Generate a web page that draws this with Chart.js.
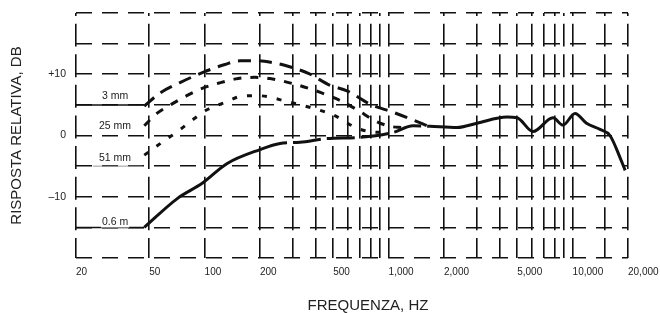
<!DOCTYPE html>
<html>
<head>
<meta charset="utf-8">
<script src="https://cdn.jsdelivr.net/npm/chart.js@4.4.1/dist/chart.umd.min.js"></script>
<style>
html, body { margin: 0; padding: 0; background: #fff; }
#wrap { width: 660px; height: 313px; }
</style>
</head>
<body>
<div id="wrap"><canvas id="graph_ID" width="660" height="313"></canvas></div>
<script>
var freq3mm = [47, 57, 73, 98, 129, 156, 195, 235, 284, 369, 480, 594, 793, 1057, 1340, 1620];
var db3mm   = [4.8, 6.9, 8.6, 10.3, 11.6, 12.2, 12.2, 11.9, 11.3, 10.1, 8.2, 7.3, 5.1, 3.8, 2.6, 1.6];

var freq25mm = [47, 55, 67, 80, 97, 121, 152, 188, 227, 299, 429, 565, 682, 844, 1018, 1183];
var db25mm   = [1.6, 3.6, 5.2, 6.5, 7.7, 8.6, 9.3, 9.5, 9.3, 8.5, 7.0, 5.5, 4.1, 2.4, 1.5, 1.3];

var freq51mm = [47, 62, 71, 86.5, 103, 129, 158, 195, 284, 393, 505, 673, 813, 944];
var db51mm   = [-3.2, -0.6, 0.6, 2.6, 4.2, 5.4, 6.4, 6.5, 5.5, 4.4, 3.3, 1.2, 0.6, 0.5];

var freq06m = [47, 71, 97, 132, 200, 257, 330, 462, 698, 1057, 1358, 1678, 2355, 3022, 4398, 4986, 6095, 7818, 8869, 10306, 11900, 14089, 15960, 18100, 19300];
var db06m   = [-15, -10.3, -7.8, -4.6, -2.3, -1.3, -1.1, -0.5, -0.3, 0.5, 1.6, 1.5, 1.3, 2.0, 3.0, 2.9, 0.65, 2.9, 1.7, 3.6, 2.0, 1.0, 0, -3.6, -5.7];

var curveNames = ['3 mm', '25 mm', '51 mm', '0.6 m'];

var xGridFreqs = [20, 50, 100, 200, 300, 400, 500, 600, 700, 800, 900, 1000, 2000, 3000, 4000, 5000, 6000, 7000, 8000, 9000, 10000, 15000, 20000];
var xLabelFreqs = [20, 50, 100, 200, 500, 1000, 2000, 5000, 10000, 20000];
var xLabelTexts = ['20', '50', '100', '200', '500', '1,000', '2,000', '5,000', '10,000', '20,000'];

var yLabelValues = [10, 0, -10];
var yLabelTexts = ['+10', '0', '\u201310'];

var fontFam = "'Liberation Sans', Arial, sans-serif";
var ink = '#111';

function pts(f, d) {
  return f.map(function (v, i) { return { x: v, y: d[i] }; });
}

function curve(data, dash) {
  return {
    data: data,
    showLine: true,
    borderColor: ink,
    borderWidth: 3,
    borderDash: dash,
    pointRadius: 0,
    cubicInterpolationMode: 'monotone',
    fill: false
  };
}

var solid = curve(pts(freq06m, db06m), []);
// middle part of the 0.6 m curve is drawn with long dashes
solid.segment = {
  borderDash: function (ctx) {
    if (ctx.p0.parsed.x >= 200 && ctx.p1.parsed.x <= 1700) return [28, 6];
    return undefined;
  }
};

// label anchors in data units
var labelPos = {
  freq: 32.6,
  db: [6.4, 1.5, -3.75, -14.2],
  leaders: [
    { from: 20, to: 47, db: 5, color: ink, width: 1.5 },
    { from: 24.7, to: 46, db: -5, color: '#999', width: 1 },
    { from: 20, to: 47, db: -15, color: ink, width: 1.5 }
  ]
};

var curveLabels = {
  id: 'curveLabels',
  beforeDatasetsDraw: function (chart) {
    var xs = chart.scales.x, ys = chart.scales.y, ctx = chart.ctx;
    ctx.save();
    labelPos.leaders.forEach(function (l) {
      ctx.strokeStyle = l.color;
      ctx.lineWidth = l.width;
      ctx.beginPath();
      ctx.moveTo(xs.getPixelForValue(l.from), ys.getPixelForValue(l.db));
      ctx.lineTo(xs.getPixelForValue(l.to), ys.getPixelForValue(l.db));
      ctx.stroke();
    });
    ctx.restore();
  },
  afterDatasetsDraw: function (chart) {
    var xs = chart.scales.x, ys = chart.scales.y, ctx = chart.ctx;
    ctx.save();
    ctx.font = '10.5px ' + fontFam;
    ctx.fillStyle = '#222';
    ctx.textAlign = 'center';
    ctx.textBaseline = 'middle';
    curveNames.forEach(function (name, i) {
      var px = xs.getPixelForValue(labelPos.freq);
      var py = ys.getPixelForValue(labelPos.db[i]);
      var w = ctx.measureText(name).width;
      ctx.fillStyle = '#fff';
      ctx.fillRect(px - w / 2 - 1, py - 6, w + 2, 11);
      ctx.fillStyle = '#222';
      ctx.fillText(name, px, py);
    });
    ctx.restore();
  },
  afterDraw: function (chart) {
    var ctx = chart.ctx;
    ctx.save();
    ctx.font = '15px ' + fontFam;
    ctx.fillStyle = '#222';
    ctx.textAlign = 'center';
    ctx.textBaseline = 'middle';
    ctx.fillText('FREQUENZA, HZ', (chart.chartArea.left + chart.width) / 2, chart.height - 7);
    ctx.restore();
  }
};

var ctxGraph = document.getElementById('graph_ID').getContext('2d');
var graphique = new Chart(ctxGraph, {
  type: 'scatter',
  data: {
    datasets: [
      curve(pts(freq3mm, db3mm), [13, 8]),
      curve(pts(freq25mm, db25mm), [8, 9]),
      curve(pts(freq51mm, db51mm), [5, 10]),
      solid
    ]
  },
  options: {
    responsive: false,
    animation: false,
    layout: { padding: { top: 13, right: 0, bottom: 0, left: 0 } },
    plugins: {
      legend: { display: false },
      tooltip: { enabled: false }
    },
    scales: {
      x: {
        type: 'logarithmic',
        min: 20,
        max: 20000,
        afterBuildTicks: function (scale) {
          scale.ticks = xGridFreqs.map(function (v) { return { value: v }; });
        },
        afterFit: function (scale) {
          scale.height = 55;
          scale.paddingLeft = 0;
          scale.paddingRight = 32;
        },
        ticks: {
          autoSkip: false,
          maxRotation: 0,
          align: 'start',
          padding: 8,
          color: '#222',
          font: { family: fontFam, size: 10 },
          callback: function (value) {
            var k = xLabelFreqs.indexOf(value);
            return k >= 0 ? xLabelTexts[k] : '';
          }
        },
        grid: { color: ink, lineWidth: 1.6, drawTicks: false },
        border: { display: false, dash: [23, 7.625], dashOffset: 20 }
      },
      y: {
        min: -20,
        max: 20,
        afterFit: function (scale) {
          scale.width = 76;
          scale.paddingTop = 0;
          scale.paddingBottom = 0;
        },
        ticks: {
          stepSize: 5,
          padding: 10,
          color: '#222',
          font: { family: fontFam, size: 10.5 },
          callback: function (value) {
            var k = yLabelValues.indexOf(value);
            return k >= 0 ? yLabelTexts[k] : '';
          }
        },
        grid: { color: ink, lineWidth: 1.6, drawTicks: false },
        border: { display: false, dash: [16, 10], dashOffset: 0 },
        title: {
          display: true,
          text: 'RISPOSTA RELATIVA, DB',
          color: '#222',
          font: { family: fontFam, size: 15 },
          padding: { top: 8, bottom: 0 }
        }
      }
    }
  },
  plugins: [curveLabels]
});
</script>
</body>
</html>
